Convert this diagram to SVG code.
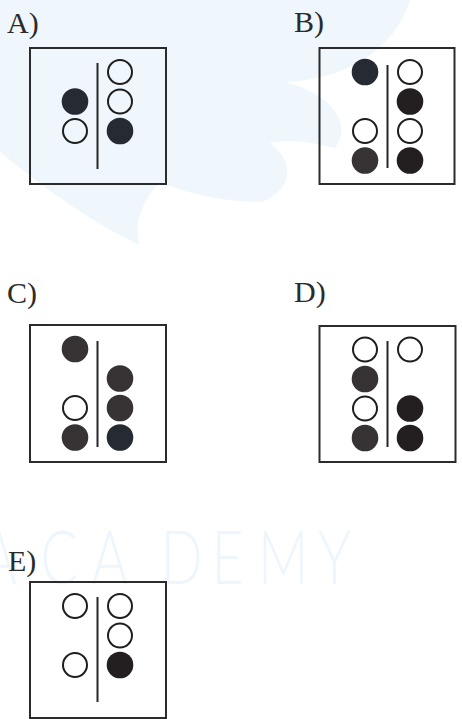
<svg xmlns="http://www.w3.org/2000/svg" width="462" height="719" viewBox="0 0 462 719">
<style>
.wm{fill:#eff7fd}
.wmt{fill:#eef6fd;font-family:Lato,"Open Sans",sans-serif;font-size:74px;font-weight:300}
.lbl{font-family:"Liberation Serif","Times New Roman",serif;font-size:30px;fill:#2b2b2b}
.box{fill:none;stroke:#2b2b2b;stroke-width:2}
.sep{stroke:#262626;stroke-width:2;fill:none}
.o{fill:none;stroke:#1e1e1e;stroke-width:2}
.fb{fill:#252a33}
.fg{fill:#373335}
.fk{fill:#231f20}
</style>
<rect width="462" height="719" fill="#ffffff"/>
<g id="watermark">
<path class="wm" d="M0,0 H410 C395,50 345,80 285,82 C335,95 352,125 335,148 C305,140 285,140 270,143 C298,165 290,190 262,202 C228,202 190,195 160,182 C142,200 133,225 140,245 C95,225 40,185 0,152 Z"/>
<text class="wmt" transform="scale(0.75,1)" y="584"><tspan x="-26">A</tspan><tspan x="54">C</tspan><tspan x="122">A</tspan><tspan x="214">D</tspan><tspan x="282">E</tspan><tspan x="344">M</tspan><tspan x="424">Y</tspan></text>
</g>
<g id="optA">
<text class="lbl" x="7" y="33">A)</text>
<rect class="box" x="30" y="48" width="136" height="136"/>
<line class="sep" x1="97.5" y1="63" x2="97.5" y2="169"/>
<circle class="fb" cx="75" cy="101.5" r="13.3"/>
<circle class="o" cx="75" cy="131" r="12"/>
<circle class="o" cx="120" cy="72" r="12"/>
<circle class="o" cx="120" cy="101.5" r="12"/>
<circle class="fb" cx="120" cy="131" r="13.3"/>
</g>
<g id="optB">
<text class="lbl" x="294" y="32">B)</text>
<rect class="box" x="319.5" y="48" width="135" height="136"/>
<line class="sep" x1="387.5" y1="65" x2="387.5" y2="168"/>
<circle class="fb" cx="365" cy="72" r="13.3"/>
<circle class="o" cx="365" cy="131" r="12"/>
<circle class="fg" cx="365" cy="160.5" r="13.3"/>
<circle class="o" cx="410" cy="72" r="12"/>
<circle class="fk" cx="410" cy="101.5" r="13.3"/>
<circle class="o" cx="410" cy="131" r="12"/>
<circle class="fk" cx="410" cy="160.5" r="13.3"/>
</g>
<g id="optC">
<text class="lbl" x="7" y="303">C)</text>
<rect class="box" x="30" y="325" width="136" height="137"/>
<line class="sep" x1="97.5" y1="341" x2="97.5" y2="447"/>
<circle class="fg" cx="75" cy="349" r="13.3"/>
<circle class="o" cx="75" cy="408" r="12"/>
<circle class="fg" cx="75" cy="437.5" r="13.3"/>
<circle class="fg" cx="120" cy="378.5" r="13.3"/>
<circle class="fg" cx="120" cy="408" r="13.3"/>
<circle class="fb" cx="120" cy="437.5" r="13.3"/>
</g>
<g id="optD">
<text class="lbl" x="294" y="302">D)</text>
<rect class="box" x="319.5" y="326" width="136" height="136"/>
<line class="sep" x1="387.5" y1="341" x2="387.5" y2="447"/>
<circle class="o" cx="365" cy="349.5" r="12"/>
<circle class="fg" cx="365" cy="379" r="13.3"/>
<circle class="o" cx="365" cy="408.5" r="12"/>
<circle class="fg" cx="365" cy="438" r="13.3"/>
<circle class="o" cx="410" cy="349.5" r="12"/>
<circle class="fk" cx="410" cy="408.5" r="13.3"/>
<circle class="fk" cx="410" cy="438" r="13.3"/>
</g>
<g id="optE">
<text class="lbl" x="8" y="571">E)</text>
<rect class="box" x="30" y="582" width="136" height="136"/>
<line class="sep" x1="97.5" y1="597" x2="97.5" y2="702"/>
<circle class="o" cx="75" cy="606" r="12"/>
<circle class="o" cx="75" cy="665" r="12"/>
<circle class="o" cx="120" cy="606" r="12"/>
<circle class="o" cx="120" cy="635.5" r="12"/>
<circle class="fk" cx="120" cy="665" r="13.3"/>
</g>
<g id="connectors"></g>
</svg>
